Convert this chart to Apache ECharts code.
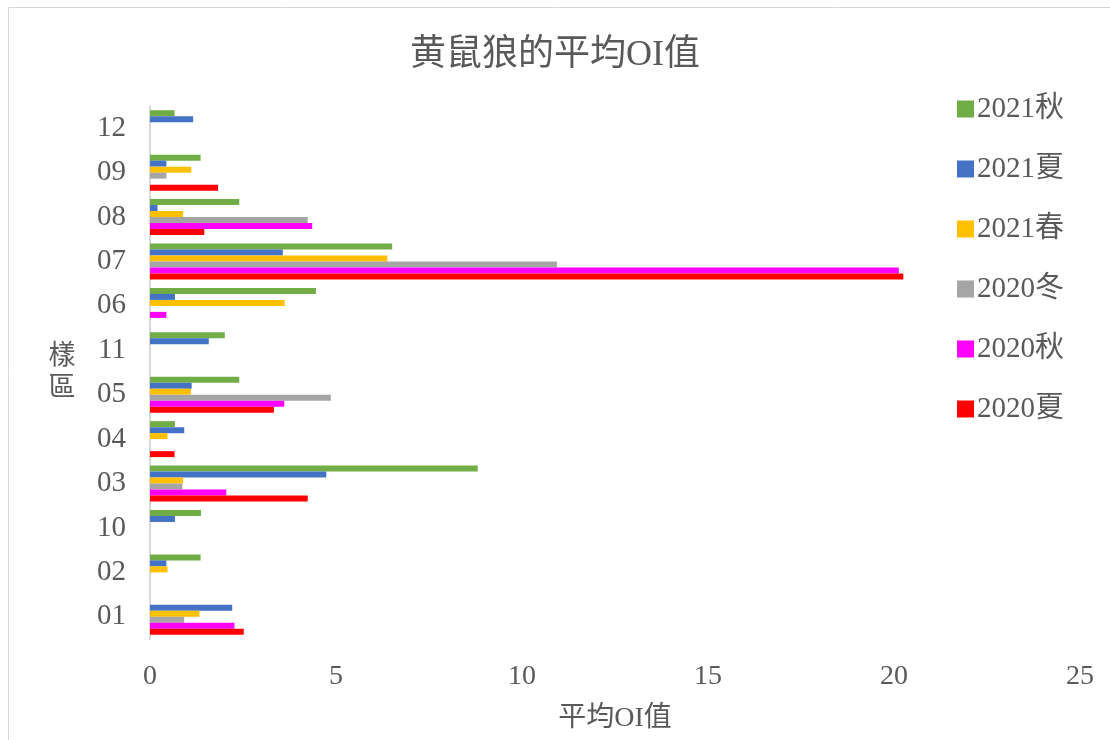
<!DOCTYPE html>
<html>
<head>
<meta charset="utf-8">
<script src="https://cdn.jsdelivr.net/npm/echarts@6/dist/echarts.min.js"></script>
<style>
html,body{margin:0;padding:0;background:#fff;}
#chart{width:1110px;height:740px;}
</style>
</head>
<body>
<div id="chart"></div>
<script>
// categories, bottom to top
const categories = ['01', '02', '10', '03', '04', '05', '11', '06', '07', '08', '09', '12'];
// series, in the order they appear top to bottom within each group (and in the legend)
const seriesNames = ['2021秋', '2021夏', '2021春', '2020冬', '2020秋', '2020夏'];
const xTicks = [0, 5, 10, 15, 20, 25];

const v2021Autumn = [null, 1.36, 1.37, 8.81, 0.67, 2.40, 2.01, 4.46, 6.51, 2.40, 1.36, 0.66];
const v2021Summer = [2.21, 0.44, 0.67, 4.74, 0.92, 1.12, 1.58, 0.67, 3.57, 0.20, 0.44, 1.16];
const v2021Spring = [1.33, 0.47, null, 0.89, 0.47, 1.10, null, 3.62, 6.38, 0.89, 1.11, null];
const v2020Winter = [0.92, null, null, 0.87, null, 4.86, null, null, 10.94, 4.24, 0.44, null];
const v2020Autumn = [2.27, null, null, 2.05, null, 3.61, null, 0.44, 20.13, 4.36, null, null];
const v2020Summer = [2.52, null, null, 4.24, 0.66, 3.33, null, null, 20.25, 1.46, 1.83, null];

const seriesValues = [v2021Autumn, v2021Summer, v2021Spring, v2020Winter, v2020Autumn, v2020Summer];
const colors = ['#70AD47', '#4472C4', '#FFC000', '#A5A5A5', '#FF00FF', '#FF0000'];

const FONT = '"Liberation Serif", "Times New Roman", "Noto Sans CJK TC", serif';
const TXT = '#595959';

const chart = echarts.init(document.getElementById('chart'));
chart.setOption({
  animation: false,
  backgroundColor: '#fff',
  graphic: [{
    type: 'rect',
    shape: { x: 8.5, y: 7.5, width: 1200, height: 800 },
    style: { fill: 'none', stroke: '#D9D9D9', lineWidth: 1 },
    silent: true
  }],
  title: {
    text: '黄鼠狼的平均OI值',
    left: 'center',
    top: 33,
    textStyle: { fontFamily: FONT, fontSize: 36, fontWeight: 'normal', color: TXT }
  },
  legend: {
    orient: 'vertical',
    left: 952,
    top: 89,
    itemWidth: 17,
    itemHeight: 17,
    itemGap: 30,
    icon: 'rect',
    data: seriesNames,
    textStyle: { fontFamily: FONT, fontSize: 29, color: TXT, lineHeight: 30, padding: [0, 0, 0, -2] }
  },
  grid: { left: 150, right: 30, top: 106, bottom: 101, containLabel: false },
  xAxis: {
    type: 'value',
    min: 0, max: 25, interval: 5,
    axisLine: { show: false },
    axisTick: { show: false },
    splitLine: { show: false },
    axisLabel: {
      margin: 24, fontFamily: FONT, fontSize: 28, color: TXT,
      formatter: v => xTicks.includes(v) ? String(v) : ''
    },
    name: '平均OI值',
    nameLocation: 'middle',
    nameGap: 66,
    nameTextStyle: { fontFamily: FONT, fontSize: 28, color: TXT, verticalAlign: 'top' }
  },
  yAxis: {
    type: 'category',
    data: categories,
    axisLine: { show: true, lineStyle: { color: '#D9D9D9', width: 2 } },
    axisTick: { show: false },
    axisLabel: { margin: 24, fontFamily: FONT, fontSize: 29, color: TXT },
    name: '樣\n區',
    nameLocation: 'middle',
    nameRotate: 0,
    nameGap: 88,
    nameTextStyle: { fontFamily: FONT, fontSize: 27, color: TXT, lineHeight: 32, align: 'center' }
  },
  series: seriesNames.map((n, i) => ({
    name: n,
    type: 'bar',
    data: seriesValues[i],
    barWidth: 6,
    barGap: 0,
    barCategoryGap: '20%',
    itemStyle: { color: colors[i] }
  }))
});
</script>
</body>
</html>
